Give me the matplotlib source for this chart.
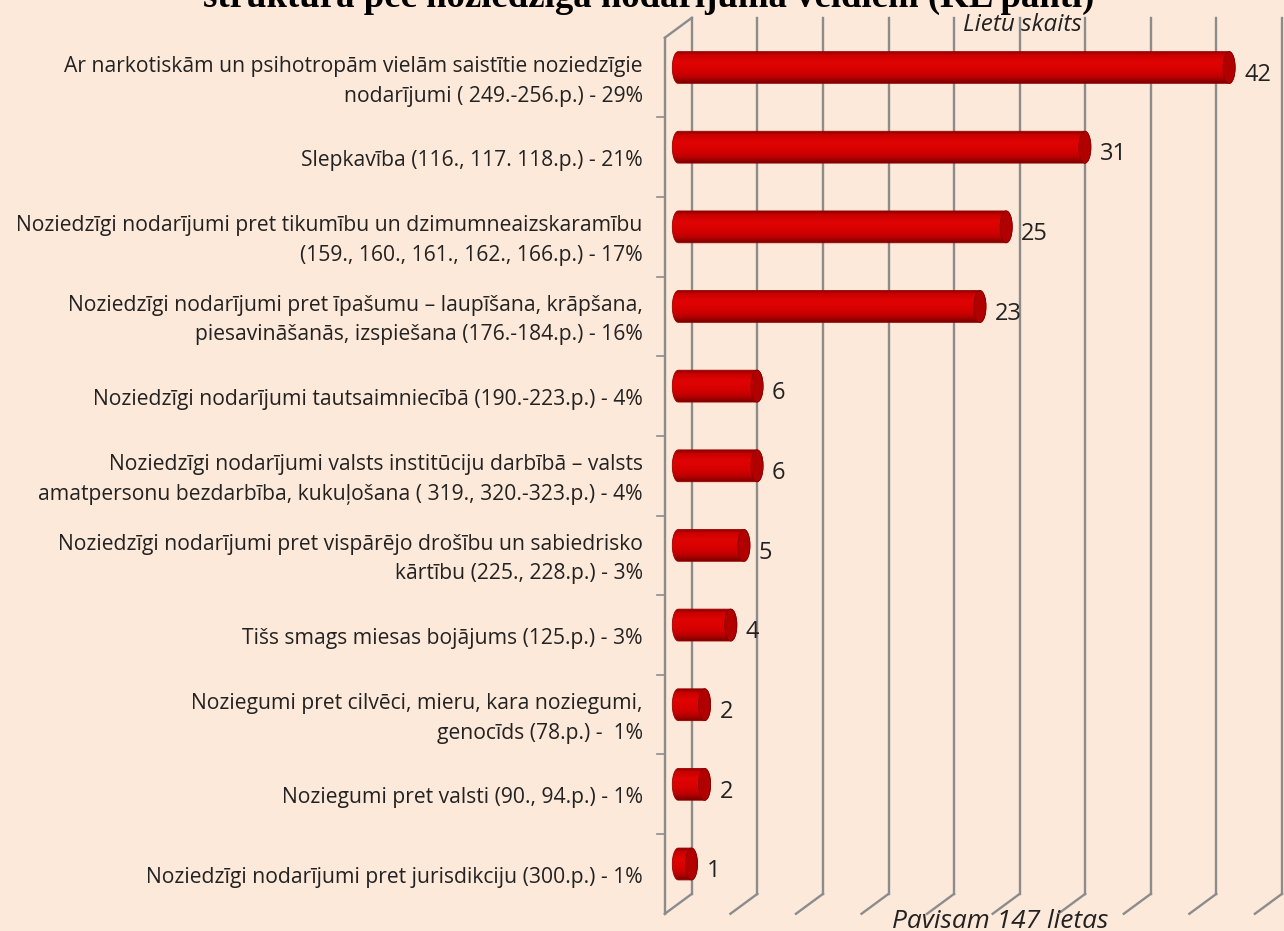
import numpy as np
import matplotlib
matplotlib.use("Agg")
import matplotlib.pyplot as plt
from matplotlib.path import Path
from matplotlib.patches import PathPatch, Ellipse
from matplotlib.colors import LinearSegmentedColormap

# data
categories = [
    "Ar narkotiskām un psihotropām vielām saistītie noziedzīgie\nnodarījumi ( 249.-256.p.) - 29%",
    "Slepkavība (116., 117. 118.p.) - 21%",
    "Noziedzīgi nodarījumi pret tikumību un dzimumneaizskaramību\n(159., 160., 161., 162., 166.p.) - 17%",
    "Noziedzīgi nodarījumi pret īpašumu – laupīšana, krāpšana,\npiesavināšanās, izspiešana (176.-184.p.) - 16%",
    "Noziedzīgi nodarījumi tautsaimniecībā (190.-223.p.) - 4%",
    "Noziedzīgi nodarījumi valsts institūciju darbībā – valsts\namatpersonu bezdarbība, kukuļošana ( 319., 320.-323.p.) - 4%",
    "Noziedzīgi nodarījumi pret vispārējo drošību un sabiedrisko\nkārtību (225., 228.p.) - 3%",
    "Tišs smags miesas bojājums (125.p.) - 3%",
    "Noziegumi pret cilvēci, mieru, kara noziegumi,\ngenocīds (78.p.) -  1%",
    "Noziegumi pret valsti (90., 94.p.) - 1%",
    "Noziedzīgi nodarījumi pret jurisdikciju (300.p.) - 1%",
]
values = [42, 31, 25, 23, 6, 6, 5, 4, 2, 2, 1]
grid_ticks = [0, 5, 10, 15, 20, 25, 30, 35, 40, 45]

title = "struktūra pēc noziedzīga nodarījuma veidiem (KL panti)"
axis_title_top = "Lietu skaits"
axis_title_bottom = "Pavisam 147 lietas"

bg = "#fde9da"
grid_col = "#8c8c8c"
text_col = "#222222"
label_font = "Open Sans"

fig = plt.figure(figsize=(12.84, 9.31), dpi=100, facecolor=bg)
ax = fig.add_axes([0.5283, 0.0292, 0.4708, 0.9410])
ax.set_facecolor("none")
ax.axis("off")

n = len(values)
y_lo, y_hi = -0.5, n - 0.5
# 3d depth shift (half of the wall depth) in data units
ddx = 1.03
ddy = 0.125

# back wall gridlines + floor diagonals
for g in grid_ticks:
    ax.plot([g + ddx, g + ddx], [y_lo - ddy, y_hi - ddy], color=grid_col,
            lw=1.7, clip_on=False, zorder=1)
    ax.plot([g + ddx, g - ddx], [y_hi - ddy, y_hi + ddy], color=grid_col,
            lw=1.7, clip_on=False, zorder=1)

# left side wall
ax.plot([-ddx, -ddx], [y_lo + ddy, y_hi + ddy], color=grid_col, lw=1.7,
        clip_on=False, zorder=1)
ax.plot([ddx, -ddx], [y_lo - ddy, y_lo + ddy], color=grid_col, lw=1.7,
        clip_on=False, zorder=1)
for b in np.arange(0.5, n - 1, 1.0):
    ax.plot([-ddx - 0.6, -ddx], [b + ddy, b + ddy], color=grid_col, lw=1.2,
            clip_on=False, zorder=1)

# cylinder bars
h = 0.2
rx = 0.46
cyl = LinearSegmentedColormap.from_list(
    "cyl", [(0.0, "#8e0000"), (0.12, "#cc0000"), (0.35, "#e00404"),
            (0.6, "#d80000"), (0.82, "#bb0000"), (1.0, "#7a0000")])
grad = np.linspace(0, 1, 64).reshape(-1, 1)
t = np.linspace(0, np.pi, 40)

for i, v in enumerate(values):
    left_x = -rx * np.sin(t)
    left_y = i + h * np.cos(t)
    right_x = v + rx * np.sin(t)
    right_y = i - h * np.cos(t)
    xs = np.concatenate([left_x, right_x])
    ys = np.concatenate([left_y, right_y])
    verts = np.column_stack([np.append(xs, xs[0]), np.append(ys, ys[0])])
    codes = [Path.MOVETO] + [Path.LINETO] * (len(verts) - 2) + [Path.CLOSEPOLY]
    shape = PathPatch(Path(verts, codes), facecolor="none",
                      edgecolor="#990000", lw=0.6, zorder=4, clip_on=False)
    ax.add_patch(shape)
    im = ax.imshow(grad, cmap=cyl, aspect="auto", interpolation="bilinear",
                   extent=[-rx, v + rx, i + h, i - h], zorder=3)
    im.set_clip_box(fig.bbox)
    im.set_clip_path(shape)
    cap = Ellipse((v, i), 2 * rx, 2 * h, facecolor="#b00000",
                  edgecolor="#8a0000", lw=0.6, zorder=5, clip_on=False)
    ax.add_patch(cap)
    ax.text(v + 1.15, i + 0.09, str(v), ha="left", va="center",
            fontsize=17, family=label_font, color=text_col, zorder=6)

# category labels
for i, lab in enumerate(categories):
    ax.text(-2.72, i + 0.17, lab, ha="right", va="center", fontsize=15.2,
            family=label_font, color=text_col, linespacing=1.55)

ax.set_xlim(0, 46.1)
ax.set_ylim(y_hi, y_lo)

fig.text(1022 / 1284, 1 - 25 / 931, axis_title_top, ha="center", va="center",
         fontsize=17.5, style="italic", family=label_font, color=text_col)
fig.text(1000 / 1284, 1 - 922 / 931, axis_title_bottom, ha="center",
         va="center", fontsize=19, style="italic", family=label_font,
         color=text_col)
fig.text(649 / 1284, 1 - 7 / 931, title, ha="center", va="baseline",
         fontsize=26.5, weight="bold", family="Liberation Serif", color="black")

fig.savefig("out.png", dpi=100, facecolor=bg)
